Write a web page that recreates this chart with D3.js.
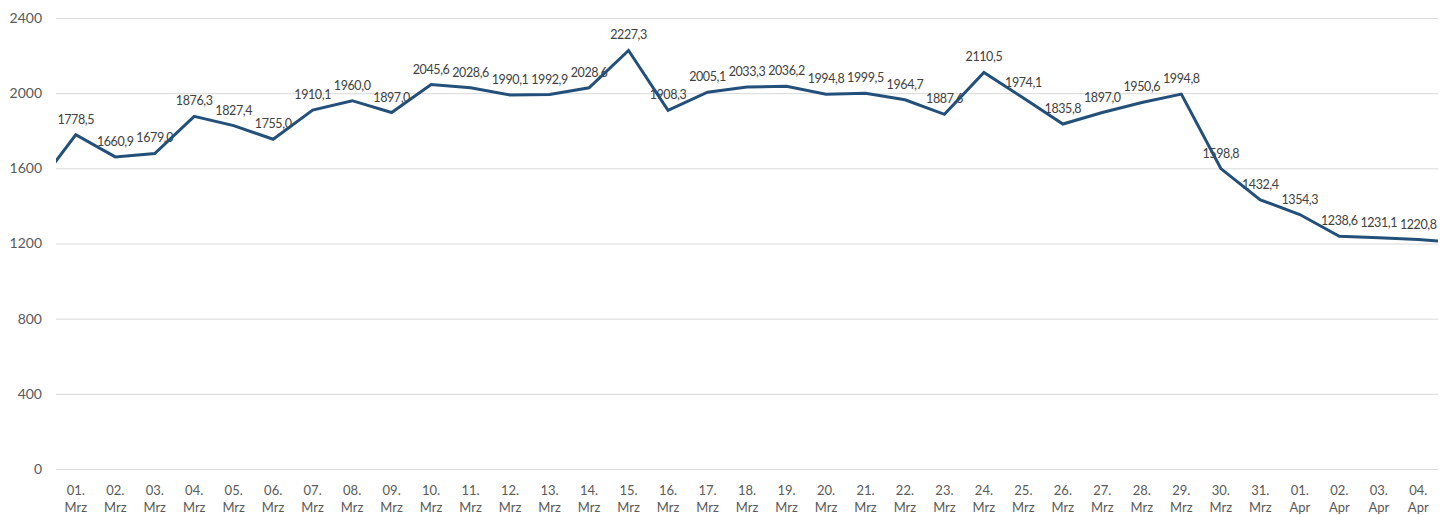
<!DOCTYPE html>
<html>
<head>
<meta charset="utf-8">
<script src="https://cdn.jsdelivr.net/npm/d3@7"></script>
<style>
  html, body { margin: 0; padding: 0; background: #ffffff; }
  svg { display: block; }
  text { font-family: Lato, "Open Sans", sans-serif; }
</style>
</head>
<body>
<div id="chart"></div>
<script>
// ---- data ----
const dayLabels = ["01.","02.","03.","04.","05.","06.","07.","08.","09.","10.","11.","12.","13.","14.","15.","16.","17.","18.","19.","20.","21.","22.","23.","24.","25.","26.","27.","28.","29.","30.","31.","01.","02.","03.","04."];
const monthLabels = ["Mrz","Mrz","Mrz","Mrz","Mrz","Mrz","Mrz","Mrz","Mrz","Mrz","Mrz","Mrz","Mrz","Mrz","Mrz","Mrz","Mrz","Mrz","Mrz","Mrz","Mrz","Mrz","Mrz","Mrz","Mrz","Mrz","Mrz","Mrz","Mrz","Mrz","Mrz","Apr","Apr","Apr","Apr"];
const values = [1778.5,1660.9,1679.0,1876.3,1827.4,1755.0,1910.1,1960.0,1897.0,2045.6,2028.6,1990.1,1992.9,2028.6,2227.3,1908.3,2005.1,2033.3,2036.2,1994.8,1999.5,1964.7,1887.6,2110.5,1974.1,1835.8,1897.0,1950.6,1994.8,1598.8,1432.4,1354.3,1238.6,1231.1,1220.8];
// neighbouring days just outside the visible window (line is cut at the plot edges)
const valueBefore = 1500;
const valueAfter = 1205;
const yTicks = [0,400,800,1200,1600,2000,2400];

// ---- layout ----
const W = 1453, H = 515;
const mLeft = 56, mRight = 1438, mTop = 18, mBottom = 469;

const svg = d3.select("#chart").append("svg").attr("width", W).attr("height", H);

const categories = dayLabels.map((d, i) => i);
const x = d3.scaleBand().domain(categories).range([mLeft, mRight]).paddingInner(0).paddingOuter(0);
const xc = i => x(0) + x.bandwidth() * (i + 0.5);
const y = d3.scaleLinear().domain([0, 2400]).range([mBottom, mTop]);

// gridlines
const yAxis = d3.axisLeft(y).tickValues(yTicks).tickSize(-(mRight - mLeft)).tickFormat(d => d).tickPadding(14);
const gy = svg.append("g").attr("transform", `translate(${mLeft},0)`).call(yAxis);
gy.select(".domain").remove();
gy.selectAll(".tick line").attr("stroke", "#d9d9d9").attr("stroke-width", 1);
gy.selectAll(".tick text").attr("fill", "#595959").style("font-size", "14px");

// x axis labels (two lines)
const xAxis = d3.axisBottom(x).tickSize(0).tickFormat("");
const gx = svg.append("g").attr("transform", `translate(0,${mBottom})`).call(xAxis);
gx.select(".domain").remove();
gx.selectAll(".tick").each(function(i) {
  const t = d3.select(this).append("text").attr("fill", "#595959").attr("text-anchor", "middle").style("font-size", "13px");
  t.append("tspan").attr("x", 0).attr("y", 26).text(dayLabels[i]);
  t.append("tspan").attr("x", 0).attr("y", 43).text(monthLabels[i]);
});

// data labels
const fmt = v => d3.format(".1f")(v).replace(".", ",");
svg.append("g").selectAll("text").data(values).join("text")
  .attr("x", (d, i) => xc(i))
  .attr("y", d => y(d) - 11)
  .attr("text-anchor", "middle")
  .attr("fill", "#404040")
  .style("font-size", "12.5px")
  .style("letter-spacing", "-0.4px")
  .text(d => fmt(d));

// line (clipped to plot area)
svg.append("clipPath").attr("id", "plotclip").append("rect")
  .attr("x", mLeft).attr("y", 0).attr("width", mRight - mLeft).attr("height", H);
const pts = [[xc(-1), y(valueBefore)]]
  .concat(values.map((v, i) => [xc(i), y(v)]))
  .concat([[xc(values.length), y(valueAfter)]]);
svg.append("path")
  .attr("clip-path", "url(#plotclip)")
  .attr("d", d3.line()(pts))
  .attr("fill", "none")
  .attr("stroke", "#23507a")
  .attr("stroke-width", 3)
  .attr("stroke-linejoin", "miter");
</script>
</body>
</html>
